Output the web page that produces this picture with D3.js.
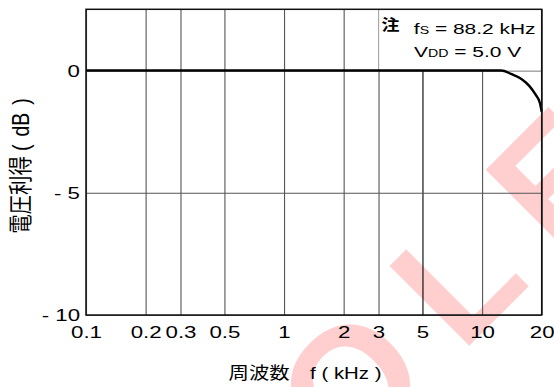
<!DOCTYPE html>
<html>
<head>
<meta charset="utf-8">
<script src="https://cdn.jsdelivr.net/npm/d3@7"></script>
<style>
  html, body { margin: 0; padding: 0; background: #fff; }
  svg { display: block; }
</style>
</head>
<body>
<svg id="chart" width="554" height="387"></svg>
<script>
// Gain vs frequency (digital filter response)
const freqKHz = [0.1, 1, 5, 10, 12.5, 14, 15.8, 17.3, 18.6, 19.6, 20];
const gainDB  = [0, 0, 0, 0, 0, -0.14, -0.35, -0.63, -0.98, -1.34, -1.69];

const xTicks = [0.1, 0.2, 0.3, 0.5, 1, 2, 3, 5, 10, 20];
const xTickLabels = ["0.1", "0.2", "0.3", "0.5", "1", "2", "3", "5", "10", "20"];
const yTicks = [-10, -5, 0];
const yTickLabels = ["- 10", "- 5", "0"];
const yDomain = [-10, 2.5];
const xDomain = [0.1, 20];

const W = 554, H = 387;
const margin = { left: 86, top: 9.3, right: 12.3, bottom: 72 };
const plotW = W - margin.left - margin.right;
const plotH = H - margin.top - margin.bottom;

const LATIN = "'Liberation Sans', Arial, Helvetica, sans-serif";
const CJK = "'Noto Sans CJK JP', 'Noto Sans CJK SC', sans-serif";
const SX = 1.35;   // horizontal stretch of the Latin lettering

const svg = d3.select("#chart");

const x = d3.scaleLog().domain(xDomain).range([margin.left, W - margin.right]);
const y = d3.scaleLinear().domain(yDomain).range([H - margin.bottom, margin.top]);

// faint watermark behind everything
const wm = svg.append("text")
  .attr("font-family", LATIN)
  .attr("font-weight", "bold")
  .attr("font-size", 164)
  .attr("letter-spacing", 36)
  .attr("fill", "#ff0000")
  .attr("fill-opacity", 0.19)
  .text("OBSOLETE");
const lead = wm.node().getSubStringLength(0, 4);
wm.attr("transform", `translate(461.5,353.5) rotate(-45) translate(${-lead},0)`);

// vertical grid + x tick labels
const gx = svg.append("g")
  .attr("transform", `translate(0,${y(yDomain[0])})`)
  .call(d3.axisBottom(x)
    .tickValues(xTicks)
    .tickFormat((d, i) => xTickLabels[i])
    .tickSize(-plotH)
    .tickPadding(0));
gx.select(".domain").remove();
gx.attr("font-family", LATIN).attr("font-size", 16.5);
gx.selectAll(".tick line")
  .attr("stroke", d => d === 5 ? "#000" : "#555")
  .attr("stroke-width", 1.1);
gx.selectAll(".tick text")
  .attr("fill", "#000")
  .attr("y", 23)
  .attr("dy", null)
  .attr("transform", `scale(${SX},1)`);

// horizontal grid + y tick labels
const gy = svg.append("g")
  .attr("transform", `translate(${x(xDomain[0])},0)`)
  .call(d3.axisLeft(y)
    .tickValues(yTicks)
    .tickFormat((d, i) => yTickLabels[i])
    .tickSize(-plotW)
    .tickPadding(0));
gy.select(".domain").remove();
gy.attr("font-family", LATIN).attr("font-size", 16.5);
gy.selectAll(".tick line")
  .attr("stroke", "#555")
  .attr("stroke-width", 1.1);
gy.selectAll(".tick text")
  .attr("fill", "#000")
  .attr("x", -6 / SX)
  .attr("dy", "0.36em")
  .attr("transform", `scale(${SX},1)`);

// note panel in the upper right corner
svg.append("rect")
  .attr("x", x(3) + 0.6)
  .attr("y", y(yDomain[1]))
  .attr("width", x(20) - x(3) - 0.6)
  .attr("height", y(0) - y(yDomain[1]))
  .attr("fill", "#fff");

svg.append("text")
  .attr("font-family", CJK)
  .attr("font-weight", "bold")
  .attr("font-size", 15)
  .attr("fill", "#000")
  .attr("transform", `translate(${x(3) + 3},29.5) scale(1.2,1)`)
  .text("注");

const note1 = svg.append("text")
  .attr("font-family", LATIN)
  .attr("font-size", 15.5)
  .attr("fill", "#000")
  .attr("text-anchor", "end")
  .attr("transform", `translate(535.5,34.3) scale(${SX},1)`);
note1.append("tspan").text("f");
note1.append("tspan").attr("font-size", 10.5).text("S");
note1.append("tspan").text(" = 88.2 kHz");

const note2 = svg.append("text")
  .attr("font-family", LATIN)
  .attr("font-size", 15.5)
  .attr("fill", "#000")
  .attr("transform", `translate(414,56.7) scale(${SX},1)`);
note2.append("tspan").text("V");
note2.append("tspan").attr("font-size", 10.5).text("DD");
note2.append("tspan").text(" = 5.0 V");

// response curve
const pts = freqKHz.map((f, i) => ({ f, g: gainDB[i] }));
svg.append("path")
  .datum(pts)
  .attr("fill", "none")
  .attr("stroke", "#000")
  .attr("stroke-width", 2.4)
  .attr("d", d3.line()
    .x(d => x(d.f))
    .y(d => y(d.g))
    .curve(d3.curveMonotoneX));

// plot frame
svg.append("rect")
  .attr("x", margin.left)
  .attr("y", margin.top)
  .attr("width", plotW)
  .attr("height", plotH)
  .attr("fill", "none")
  .attr("stroke", "#111")
  .attr("stroke-width", 1.5);

// axis titles
svg.append("text")
  .attr("font-family", LATIN + ", " + CJK)
  .attr("font-size", 17)
  .attr("fill", "#000")
  .attr("text-anchor", "middle")
  .attr("transform", `translate(305,378.5) scale(1.2,1)`)
  .text("周波数\u3000f ( kHz )");

const yt = svg.append("text")
  .attr("font-family", CJK)
  .attr("font-size", 19.5)
  .attr("fill", "#000")
  .attr("text-anchor", "middle")
  .attr("y", 7)
  .attr("transform", `translate(21,166) rotate(-90) scale(1,1.2)`);
yt.append("tspan").text("電圧利得");
yt.append("tspan").attr("font-family", LATIN).attr("dx", 5).text("(");
yt.append("tspan").attr("font-family", LATIN).attr("dx", 8).text("dB");
yt.append("tspan").attr("font-family", LATIN).attr("dx", 8).text(")");
</script>
</body>
</html>
